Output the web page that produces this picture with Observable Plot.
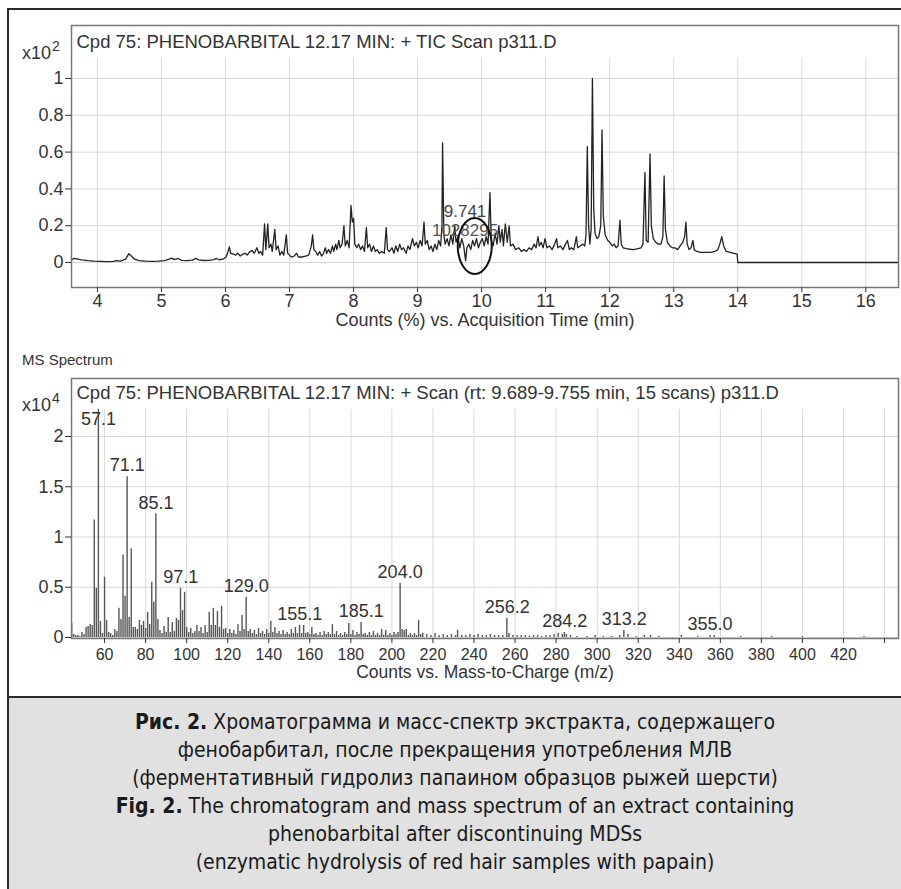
<!DOCTYPE html>
<html>
<head>
<meta charset="utf-8">
<script src="https://cdn.jsdelivr.net/npm/d3@7"></script>
<script src="https://cdn.jsdelivr.net/npm/@observablehq/plot@0.6"></script>
<style>
  html, body { margin: 0; padding: 0; background: #fff; }
  body { width: 901px; height: 889px; position: relative; overflow: hidden; font-family: "Liberation Sans", Arial, sans-serif; color: #333; }
  .abs { position: absolute; }
  #outer { left: 7px; top: 8px; width: 894px; height: 881px; border-top: 2px solid #2a2a2a; border-left: 2px solid #2a2a2a; box-sizing: border-box; }
  #top { left: 0; top: 0; }
  #bottom { left: 0; top: 340px; }
  .exp { font-size: 18px; color: #333; line-height: 20px; }
  .exp sup { font-size: 14px; position: relative; top: -1px; margin-left: 1px; }
  #msl { left: 22px; top: 351px; font-size: 15px; font-family: "Liberation Sans Narrow", "Liberation Sans", Arial, sans-serif; color: #333; }
  #caption { left: 7px; top: 696px; width: 894px; height: 193px; background: #e1e1e1; border-top: 2px solid #2a2a2a; border-left: 2px solid #2a2a2a; box-sizing: border-box; text-align: center; padding-top: 10px; font-family: "DejaVu Sans Condensed", "Liberation Sans Narrow", sans-serif; font-stretch: condensed; font-size: 21px; line-height: 28px; color: #1a1a1a; }
  #caption b { font-weight: bold; }
</style>
</head>
<body>
<div id="outer" class="abs"></div>
<div id="top" class="abs"></div>
<div id="bottom" class="abs"></div>
<div class="abs exp" style="left:22px; top:37px;">x10<sup>2</sup></div>
<div class="abs exp" style="left:22px; top:389px;">x10<sup>4</sup></div>
<div id="msl" class="abs">MS Spectrum</div>
<div id="caption" class="abs">
  <b>Рис. 2.</b> Хроматограмма и масс-спектр экстракта, содержащего<br>
  фенобарбитал, после прекращения употребления МЛВ<br>
  (ферментативный гидролиз папаином образцов рыжей шерсти)<br>
  <b>Fig. 2.</b> The chromatogram and mass spectrum of an extract containing<br>
  phenobarbital after discontinuing MDSs<br>
  (enzymatic hydrolysis of red hair samples with papain)
</div>
<script>
// ---------- DATA ----------
const ticTitle = "Cpd 75: PHENOBARBITAL 12.17 MIN: + TIC Scan p311.D";
const msTitle = "Cpd 75: PHENOBARBITAL 12.17 MIN: + Scan (rt: 9.689-9.755 min, 15 scans) p311.D";
const ticXLabel = "Counts (%) vs. Acquisition Time (min)";
const msXLabel = "Counts vs. Mass-to-Charge (m/z)";

const ticXTicks = [4, 5, 6, 7, 8, 9, 10, 11, 12, 13, 14, 15, 16];
const ticYTicks = [0, 0.2, 0.4, 0.6, 0.8, 1];
const msXTicks = [60, 80, 100, 120, 140, 160, 180, 200, 220, 240, 260, 280, 300, 320, 340, 360, 380, 400, 420, 440];
const msYTicks = [0, 0.5, 1, 1.5, 2];

// chromatogram trace (time, min ; counts x10^2)
const ticTime = [
  3.60,3.63,3.68,3.75,3.85,3.95,4.05,4.15,4.25,4.30,4.36,4.44,4.49,4.53,4.58,4.65,4.75,4.85,4.95,5.05,
  5.12,5.16,5.20,5.26,5.32,5.40,5.48,5.54,5.58,5.66,5.74,5.82,5.86,5.90,5.96,6.01,
  6.04,6.06,6.08,6.12,6.16,6.19,6.23,6.27,6.31,6.34,6.38,6.42,6.45,6.49,6.52,6.55,6.58,6.61,6.63,6.66,
  6.68,6.71,6.73,6.77,6.79,6.82,6.85,6.88,6.91,6.95,6.97,7.00,7.03,7.07,7.11,7.14,7.20,7.25,7.30,7.34,
  7.36,7.38,7.41,7.44,7.47,7.50,
  7.53,7.56,7.58,7.61,7.64,7.67,7.69,7.72,7.74,7.77,7.79,7.82,7.85,7.87,7.90,7.93,7.96,7.98,8.00,8.02,
  8.05,8.08,8.11,8.14,8.17,8.20,8.22,8.25,8.28,8.31,8.34,8.37,8.40,8.44,8.48,8.51,8.53,8.56,8.60,8.63,
  8.66,8.69,8.72,8.75,8.78,8.82,8.85,8.88,8.92,8.95,8.98,9.01,9.04,9.07,9.10,9.12,9.15,9.18,9.21,9.24,
  9.27,9.30,9.33,9.36,9.38,9.39,9.41,9.43,
  9.46,9.49,9.52,9.55,9.58,9.60,9.63,9.66,9.69,9.72,9.75,9.77,9.80,9.83,9.86,9.89,9.92,9.95,9.98,10.01,
  10.04,10.07,10.10,10.13,10.15,10.18,10.21,10.24,10.27,10.29,10.32,10.34,10.37,10.40,10.43,10.45,10.49,10.53,10.58,10.62,
  10.66,10.70,10.74,10.78,10.82,10.85,10.88,10.90,10.93,10.96,10.99,11.02,11.06,11.10,11.14,11.17,11.19,11.23,11.27,11.31,
  11.34,11.37,11.40,11.44,11.48,11.50,11.54,11.58,11.61,
  11.63,11.65,11.67,11.69,11.71,11.73,11.75,11.77,11.80,11.83,11.86,11.88,11.90,11.93,11.97,12.00,12.04,12.07,12.10,12.13,
  12.16,12.18,12.21,12.26,12.32,12.38,12.44,12.49,12.52,12.55,12.57,12.60,12.63,12.65,12.68,12.72,12.76,12.80,12.83,12.85,
  12.87,12.90,12.94,12.98,13.02,13.06,13.10,13.14,13.17,13.19,13.21,13.24,13.27,13.30,13.32,13.36,13.42,13.50,13.58,13.64,
  13.69,13.72,13.75,13.78,13.82,13.88,13.94,13.99,14.00,16.51
];
const ticValue = [
  .015,.022,.020,.014,.010,.007,.006,.005,.006,.010,.007,.018,.048,.035,.018,.010,.007,.006,.007,.010,
  .018,.024,.016,.022,.012,.010,.013,.022,.014,.011,.012,.016,.022,.015,.018,.030,
  .060,.085,.050,.045,.040,.050,.035,.045,.050,.040,.060,.065,.050,.080,.050,.060,.040,.210,.070,.210,
  .080,.100,.060,.180,.070,.090,.040,.060,.040,.150,.050,.040,.030,.035,.050,.030,.030,.035,.040,.090,
  .150,.070,.060,.040,.060,.035,
  .050,.080,.050,.070,.050,.090,.060,.100,.070,.120,.080,.100,.200,.090,.120,.080,.310,.220,.240,.100,
  .080,.100,.070,.090,.060,.190,.080,.100,.060,.090,.060,.070,.050,.060,.050,.190,.070,.060,.080,.050,
  .090,.060,.100,.070,.080,.050,.090,.070,.130,.090,.110,.080,.120,.090,.220,.100,.120,.070,.090,.060,
  .100,.070,.120,.090,.200,.650,.150,.100,
  .130,.090,.150,.100,.200,.110,.140,.080,.130,.090,.010,.080,.100,.070,.120,.090,.130,.080,.110,.130,
  .090,.140,.100,.380,.120,.090,.160,.100,.200,.110,.180,.090,.210,.110,.200,.090,.100,.070,.080,.060,
  .070,.060,.080,.070,.100,.080,.140,.090,.110,.080,.130,.080,.090,.070,.100,.130,.080,.090,.070,.100,
  .120,.070,.080,.070,.140,.080,.090,.100,.090,
  .150,.630,.200,.100,.180,1.00,.300,.160,.130,.140,.200,.720,.250,.150,.120,.110,.090,.100,.080,.090,
  .230,.100,.080,.075,.072,.070,.075,.080,.100,.490,.120,.110,.590,.200,.130,.110,.100,.100,.140,.470,
  .180,.110,.090,.080,.080,.070,.090,.110,.140,.220,.100,.070,.080,.120,.070,.060,.055,.055,.055,.060,
  .070,.100,.140,.090,.060,.055,.050,.045,0,0
];
const ticPeak = {time: 9.741, area: "1028295", level: 0.12};
const ticCircle = {time: 9.9, level: 0.087};

// mass spectrum (m/z ; counts x10^4)
const msMz = [
  44,45,46,47,48,49,50,51,52,53,54,55,56,57,58,59,60,61,62,63,64,65,66,67,68,69,70,71,72,73,74,75,76,77,78,79,80,
  81,82,83,84,85,86,87,88,89,90,91,92,93,94,95,96,97,98,99,100,101,102,103,104,105,106,107,108,109,110,
  111,112,113,114,115,116,117,118,119,120,121,122,123,124,125,126,127,128,129,130,131,132,133,134,135,136,137,138,139,140,
  141,142,143,144,145,146,147,148,149,150,151,152,153,154,155,156,157,158,159,160,161,162,163,164,165,166,167,168,169,170,
  171,172,173,174,175,176,177,178,179,180,181,182,183,184,185,186,187,188,189,190,191,192,193,194,195,196,197,198,199,200,
  201,202,203,204,205,206,207,208,209,210,211,212,213,214,215,217,219,221,223,225,227,229,231,232,234,236,238,240,242,244,
  246,248,250,252,254,256,257,259,261,263,265,267,269,271,273,275,277,279,281,283,284,285,287,290,295,299,303,307,311,313,
  315,319,323,326,330,341,349,355,357,370,385,400,430
];
const msInt = [
  .14,.03,.02,.02,.01,.05,.03,.10,.11,.13,.12,1.17,.49,2.27,.16,.04,.60,.17,.05,.04,.02,.08,.06,.29,.18,.82,.41,1.60,.20,.88,.10,.10,.08,.17,.12,.16,.09,
  .25,.13,.55,.35,1.23,.18,.07,.04,.11,.05,.20,.05,.15,.06,.19,.17,.49,.27,.45,.10,.05,.09,.04,.06,.12,.06,.10,.04,.12,.05,
  .25,.12,.29,.12,.26,.10,.31,.08,.09,.04,.08,.04,.07,.03,.13,.06,.22,.08,.40,.06,.08,.04,.07,.03,.09,.04,.06,.03,.08,.04,
  .16,.05,.10,.04,.06,.03,.07,.03,.05,.03,.08,.04,.10,.04,.12,.04,.12,.04,.05,.03,.10,.03,.04,.02,.05,.02,.06,.03,.05,.03,
  .13,.03,.06,.02,.04,.02,.05,.03,.14,.03,.07,.02,.05,.03,.15,.03,.04,.02,.05,.02,.06,.02,.04,.02,.08,.02,.07,.02,.04,.02,
  .05,.03,.05,.54,.08,.07,.08,.02,.04,.02,.04,.02,.17,.03,.04,.03,.02,.04,.02,.03,.02,.03,.02,.07,.02,.02,.03,.02,.03,.02,
  .02,.03,.02,.02,.02,.19,.04,.02,.02,.02,.02,.01,.02,.02,.01,.02,.02,.03,.04,.03,.05,.03,.02,.01,.01,.02,.01,.01,.02,.07,
  .03,.01,.02,.02,.01,.02,.01,.02,.02,.01,.01,.01,.01
];
const msLabelMz = [57.1, 71.1, 85.1, 97.1, 129.0, 155.1, 185.1, 204.0, 256.2, 284.2, 313.2, 355.0];
const msLabelInt = [2.27, 1.60, 1.23, 0.49, 0.40, 0.12, 0.15, 0.54, 0.19, 0.05, 0.07, 0.02];

// ---------- BUILD ----------
const FONT = '"Liberation Sans", Arial, sans-serif';
const tic = ticTime.map((t, i) => ({t, v: ticValue[i]}));
const ms = msMz.map((m, i) => ({m, v: msInt[i]}));
const msLabels = msLabelMz.map((m, i) => ({m, v: Math.min(msLabelInt[i], 2.06), text: m.toFixed(1)}));

const ticY = [-0.1358, 1.288];
const msY = [-0.01, 2.577];
const grid = "#d9d9d9";
const fmt = d => String(d);

function ellipseMark(c, rx, ry) {
  return (index, scales) => {
    const e = document.createElementNS("http://www.w3.org/2000/svg", "ellipse");
    e.setAttribute("cx", scales.x(c.time));
    e.setAttribute("cy", scales.y(c.level));
    e.setAttribute("rx", rx);
    e.setAttribute("ry", ry);
    e.setAttribute("fill", "none");
    e.setAttribute("stroke", "#111");
    e.setAttribute("stroke-width", 2);
    return e;
  };
}

const topPlot = Plot.plot({
  width: 901, height: 340,
  marginLeft: 71, marginRight: 3, marginTop: 25, marginBottom: 53,
  x: {domain: [3.595, 16.51]},
  y: {domain: ticY},
  style: {fontFamily: FONT, fontSize: "18px", color: "#333", background: "transparent", overflow: "visible"},
  marks: [
    Plot.ruleY(ticYTicks, {stroke: grid}),
    Plot.ruleX(ticXTicks, {y1: ticY[0], y2: 1.11, stroke: grid}),
    Plot.line(tic, {x: "t", y: "v", stroke: "#222", strokeWidth: 1.3}),
    Plot.text([ticPeak], {x: "time", y: "level", text: d => d.time.toFixed(3), dy: -29, fill: "#444", fontSize: 17}),
    Plot.text([ticPeak], {x: "time", y: "level", text: "area", dy: -10, fill: "#555", fontSize: 17}),
    ellipseMark(ticCircle, 17, 28),
    Plot.frame({stroke: "#777", strokeWidth: 1.5}),
    Plot.axisX(ticXTicks, {tickSize: 5, tickPadding: 2, tickFormat: fmt, label: null, fontSize: 18}),
    Plot.text([ticXLabel], {frameAnchor: "bottom", dy: 33, lineAnchor: "middle", fontSize: 18, fill: "#333"}),
    Plot.axisY(ticYTicks, {tickSize: 6, tickPadding: 2, tickFormat: fmt, label: null, fontSize: 18}),
    Plot.text([ticTitle], {frameAnchor: "top-left", dx: 5, dy: 17, textAnchor: "start", lineAnchor: "middle", fontSize: 18.5, fill: "#333"})
  ]
});
document.getElementById("top").appendChild(topPlot);

const botPlot = Plot.plot({
  width: 901, height: 357,
  marginLeft: 71, marginRight: 3, marginTop: 38, marginBottom: 59,
  x: {domain: [43.9, 446.8]},
  y: {domain: msY},
  style: {fontFamily: FONT, fontSize: "18px", color: "#333", background: "transparent", overflow: "visible"},
  marks: [
    Plot.ruleY(msYTicks, {stroke: grid}),
    Plot.ruleX(msXTicks, {y1: msY[0], y2: 2.27, stroke: grid}),
    Plot.ruleX(ms, {x: "m", y1: 0, y2: "v", stroke: "#555", strokeWidth: 1.4}),
    Plot.text(msLabels, {x: "m", y: "v", text: "text", dy: -11, fontSize: 18, fill: "#333"}),
    Plot.frame({stroke: "#777", strokeWidth: 1.5}),
    Plot.axisX(msXTicks, {tickSize: 5, tickPadding: 5, tickFormat: d => d > 420 ? "" : String(d), label: null, fontSize: 16}),
    Plot.text([msXLabel], {frameAnchor: "bottom", dy: 34, lineAnchor: "middle", fontSize: 17.5, fill: "#333"}),
    Plot.axisY(msYTicks, {tickSize: 6, tickPadding: 2, tickFormat: fmt, label: null, fontSize: 18}),
    Plot.text([msTitle], {frameAnchor: "top-left", dx: 5, dy: 15, textAnchor: "start", lineAnchor: "middle", fontSize: 18.5, fill: "#333"})
  ]
});
document.getElementById("bottom").appendChild(botPlot);
</script>
</body>
</html>
